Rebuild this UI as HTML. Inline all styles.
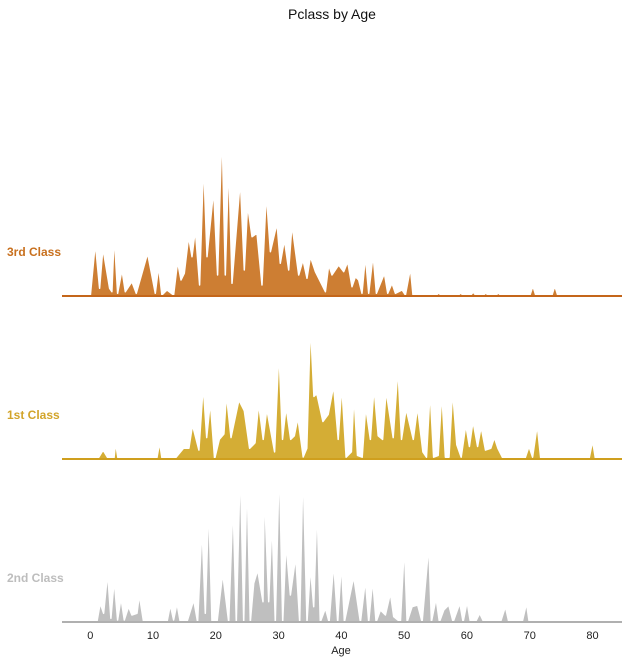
<!DOCTYPE html>
<html><head><meta charset="utf-8"><style>
body{margin:0;background:#fff;width:634px;height:663px;overflow:hidden;font-family:"Liberation Sans",sans-serif}
</style></head><body>
<svg id="c" width="634" height="663">
<text x="332" y="19" text-anchor="middle" font-size="14" fill="#111">Pclass by Age</text>
</svg>
<script>
const ticks=[0,10,20,30,40,50,60,70,80];
const classNames=["3rd Class","1st Class","2nd Class"];
const thirdAge=[0,0.8,1.49,2.02,3.08,3.45,3.82,4.36,5.05,5.58,6.64,7.33,9.14,10.36,10.89,11.42,12.22,13.28,13.92,14.45,14.98,15.67,16.2,16.73,17.42,18.06,18.59,19.65,20.29,20.98,21.51,22.05,22.58,23.9,24.54,25.07,25.76,26.56,27.36,28.05,28.69,29.75,30.28,30.92,31.61,32.14,33.2,33.89,34.53,35.06,35.86,37.45,37.98,38.51,39.58,40.37,41.01,41.7,42.23,42.76,43.29,43.82,44.36,45.05,45.58,46.85,47.38,48.07,48.61,49.67,50.2,51,51.42,55,55.5,56,58.5,59,59.5,60.5,61,61.5,62.5,63,63.5,64.5,65,65.5,70,70.5,71,73.5,74,74.5];
const thirdDensity=[0,52.7,7.7,47.7,7.7,4.3,61,2.7,26,4.3,14.3,2.7,42.7,2.7,29.3,1,6,1,34.3,16,22.7,59.3,39.3,66,11,134.3,39.3,106,21,167.7,21,134.3,12.7,116,26,91,59.3,62.7,11,102.7,44.3,72.7,32.7,56,26,71,21,36,17.7,39.3,24.3,4.3,31,21,31,24.3,34.3,9.3,19.3,16,2.7,39.3,2.7,41,2.7,22.7,2.7,12.7,2.7,6,1,27.7,0,0,3,0,0,3,0,0,4,0,0,3,0,0,3,0,0,10,0,0,10,0];
const firstAge=[1.19,2.05,2.9,3.76,4.04,4.44,10.59,11.04,11.44,13.43,14.85,15.71,16.28,17.3,17.99,18.55,19.12,19.81,20.55,21.29,21.68,22.42,23.68,24.53,25.38,26.24,26.81,27.55,28.12,29.37,30.05,30.62,31.19,31.93,32.5,33.07,33.92,34.49,35.06,35.63,36.08,37.05,37.9,38.76,39.5,40.07,40.75,41.6,42,42.57,43.31,43.88,44.62,45.19,45.87,46.56,47.12,48.26,49,49.57,50.31,51.45,52.13,52.99,53.56,54.13,54.69,55.43,56,56.57,57.14,57.71,58.39,59.08,59.82,60.39,60.96,61.7,62.26,62.95,63.8,64.37,64.94,65.79,69.21,69.89,70.46,71.2,71.77,79.45,80.02,80.48];
const firstDensity=[0,8.9,0,0,16.1,0,0,16.1,0,0,10.7,10.7,33.9,8.9,73.2,21.4,57.1,0,19.6,25,64.3,21.4,58.9,48.2,10.7,16.1,55.4,19.6,50,7.1,108.9,19.6,51.8,19.6,23.2,41.1,2,10.7,135.7,62.5,65.4,37.5,44.6,73.2,19.6,73.2,1.8,7.1,64.3,3.6,1.8,51.8,19.6,71.4,23.2,19.6,67.9,21.4,90.4,19.6,50,19.6,51.8,7.1,1.8,67.9,1.8,3.6,66.1,1.8,1.8,67.9,14.3,1.8,33.9,12.5,37.5,12.5,32.1,8.9,10.7,21.4,10.7,0,0,12.5,1.8,33.9,0,0,17.9,0];
const secondAge=[1.06,1.59,2.12,2.76,3.29,3.82,4.36,4.89,5.42,6.11,6.64,7.44,7.81,8.5,12.22,12.75,13.28,13.81,14.34,15.4,16.47,17.1,17.8,18.33,18.86,19.39,20.19,21.09,22.05,22.74,23.27,23.9,24.44,24.97,25.5,26.03,26.67,27.52,27.73,28.42,28.95,29.48,30.12,30.65,31.18,31.88,32.72,33.36,33.89,34.53,35.06,35.59,36.12,36.65,37.45,38.04,38.78,39.42,40,40.48,41.97,43.03,43.82,44.36,44.99,45.53,46.22,47.01,47.81,48.34,49.4,50.04,50.47,51.26,52.16,52.86,53.92,54.34,55.09,55.62,56.31,57.11,57.8,58.86,59.39,60.03,60.56,61.35,62.04,62.68,65.34,66.13,66.67,68.81,69.49,69.92];
const secondDensity=[0,18.7,8.7,48.7,3.7,42,2,23.7,2,15.3,7,8.7,27,0,0,17,2,18.7,0,0,22,0,95.3,8.7,118.7,0,0,48.7,0,120.3,0,158.7,0,147,0,38.7,52,20.3,135.3,20.3,102,0,160.3,0,78.7,27,65.3,0,157,0,55.3,15.3,117,0,13.7,0,58.7,0,58.7,0,45.3,0,42,0,42,0,12,7,28.7,5.3,0,77,0,15.3,17,0,77,0,23.7,0,12,17,0,18.7,0,20.3,0,0,8.7,0,0,15.3,0,0,18.7,0];

const svg=document.getElementById('c');
const NS='http://www.w3.org/2000/svg';
const xMin=-4.5,xMax=84.7,x0=62,x1=622;
function xs(a){return x0+(a-xMin)/(xMax-xMin)*(x1-x0);}
function ys(base,d){return base-d;}
const series=[
 {ages:thirdAge,dens:thirdDensity,base:296,fill:'#cd7e33',line:'#c4661a',label:'#c8701e',ly:256},
 {ages:firstAge,dens:firstDensity,base:459,fill:'#d4ad35',line:'#cf9f1e',label:'#d2a42a',ly:419},
 {ages:secondAge,dens:secondDensity,base:622,fill:'#bfbfbf',line:'#b0b0b0',label:'#bdbdbd',ly:582}
];
series.forEach((s,i)=>{
  const g=document.createElementNS(NS,'g');
  
  
  let d='M'+x0+','+s.base+' L'+xs(s.ages[0]).toFixed(1)+','+s.base;
  s.ages.forEach((a,j)=>{d+=' L'+xs(a).toFixed(1)+','+ys(s.base,s.dens[j]).toFixed(1);});
  d+=' L'+xs(s.ages[s.ages.length-1]).toFixed(1)+','+s.base+' L'+x1+','+s.base+' Z';
  const p=document.createElementNS(NS,'path');
  p.setAttribute('d',d);p.setAttribute('fill',s.fill);
  p.setAttribute('stroke','#fff');p.setAttribute('stroke-width','1.5');p.setAttribute('stroke-linejoin','round');
  
  
  g.appendChild(p);
  const l=document.createElementNS(NS,'line');
  l.setAttribute('x1',x0);l.setAttribute('x2',x1);l.setAttribute('y1',s.base);l.setAttribute('y2',s.base);
  l.setAttribute('stroke',s.line);l.setAttribute('stroke-width','2');
  
  
  g.appendChild(l);
  const t=document.createElementNS(NS,'text');
  t.setAttribute('x',7);t.setAttribute('y',s.ly);t.setAttribute('font-size','12');t.setAttribute('font-weight','bold');t.setAttribute('fill',s.label);
  t.textContent=classNames[i];
  
  
  g.appendChild(t);
  svg.appendChild(g);
});
ticks.forEach(v=>{
  const t=document.createElementNS(NS,'text');
  t.setAttribute('x',xs(v));t.setAttribute('y',639);t.setAttribute('text-anchor','middle');t.setAttribute('font-size','11');t.setAttribute('fill','#222');
  t.textContent=v;
  
  
  svg.appendChild(t);
});
const xl=document.createElementNS(NS,'text');
xl.setAttribute('x',341);xl.setAttribute('y',654);xl.setAttribute('text-anchor','middle');xl.setAttribute('font-size','11');xl.setAttribute('fill','#222');
xl.textContent='Age';


svg.appendChild(xl);
</script>
</body></html>
